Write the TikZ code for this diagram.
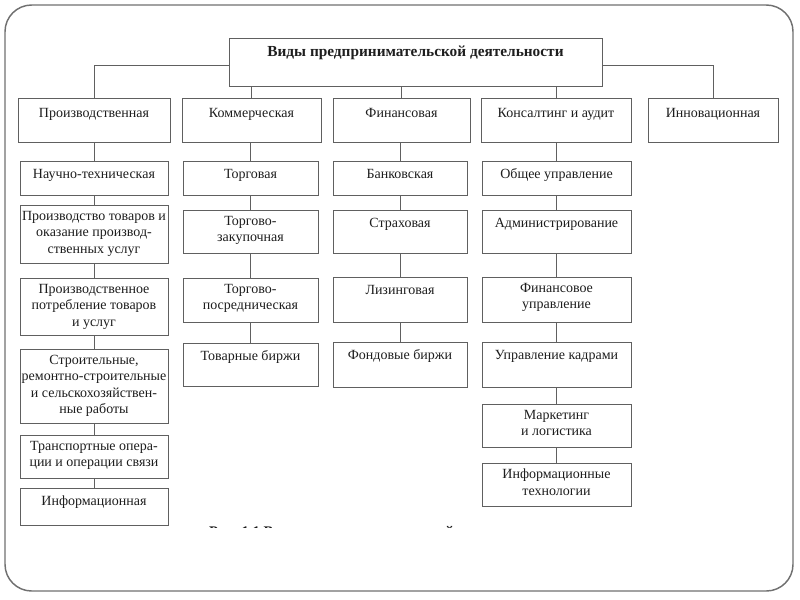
\documentclass[tikz,border=0pt]{standalone}
\usepackage{fontspec}
\setmainfont{Liberation Serif}
\usetikzlibrary{fit}
\definecolor{linec}{HTML}{606060}
\definecolor{framec}{HTML}{707070}
\definecolor{textc}{HTML}{1E1E1E}
\newcommand\mkbox[7]{%
  \coordinate (#1-a) at (#2,#3);
  \coordinate (#1-b) at (#4,#5);
  \node[boxst, fit=(#1-a)(#1-b)] (#1) {};
  \node[txt, anchor=north] (#1-t) at ([yshift={-#6*0.75pt}]#1.north) {#7};
}
\begin{document}
\begin{tikzpicture}[x=0.75pt,y=-0.75pt,
  boxst/.style={draw=linec, line width=0.65pt, fill=white, inner sep=0pt},
  txt/.style={align=center, inner sep=0pt, text=textc, font=\fontsize{10.5}{12.4}\selectfont, execute at begin node=\strut},
  conn/.style={draw=linec, line width=0.65pt},
  frame/.style={draw=framec, line width=1.1pt, rounded corners=20pt}]
\useasboundingbox (0,0) rectangle (800,600);
\draw[frame] (5,5) rectangle (793,591);

% top
\mkbox{top}{229}{38}{602}{86}{7}{\fontsize{11.5}{13.8}\selectfont\bfseries Виды предпринимательской деятельности}
\coordinate (hub) at (400,65);

% level 2
\mkbox{A}{18}{98}{170}{142}{8.5}{Производственная}
\mkbox{B}{182}{98}{321}{142}{8.5}{Коммерческая}
\mkbox{C}{333}{98}{470}{142}{8.5}{Финансовая}
\mkbox{D}{481}{98}{631}{142}{8.5}{Консалтинг и аудит}
\mkbox{E}{648}{98}{778}{142}{8.5}{Инновационная}

% column A
\mkbox{A1}{20}{161}{168}{195}{6}{Научно-техническая}
\mkbox{A2}{20}{205}{168}{263}{6}{Производство товаров и\\оказание производ-\\ственных услуг}
\mkbox{A3}{20}{278}{168}{335}{6}{Производственное\\потребление товаров\\и услуг}
\mkbox{A4}{20}{349}{168}{423}{6}{Строительные,\\ремонтно-строительные\\и сельскохозяйствен-\\ные работы}
\mkbox{A5}{20}{435}{168}{478}{6}{Транспортные опера-\\ции и операции связи}
\mkbox{A6}{20}{488}{168}{525}{6}{Информационная}

% column B
\mkbox{B1}{183}{161}{318}{195}{6}{Торговая}
\mkbox{B2}{183}{210}{318}{253}{6}{Торгово-\\закупочная}
\mkbox{B3}{183}{278}{318}{322}{6}{Торгово-\\посредническая}
\mkbox{B4}{183}{343}{318}{386}{6}{Товарные биржи}

% column C
\mkbox{C1}{333}{161}{467}{195}{6}{Банковская}
\mkbox{C2}{333}{210}{467}{253}{6}{Страховая}
\mkbox{C3}{333}{277}{467}{322}{6}{Лизинговая}
\mkbox{C4}{333}{342}{467}{387}{6}{Фондовые биржи}

% column D
\mkbox{D1}{482}{161}{631}{195}{6}{Общее управление}
\mkbox{D2}{482}{210}{631}{253}{6}{Администрирование}
\mkbox{D3}{482}{277}{631}{322}{6}{Финансовое\\управление}
\mkbox{D4}{482}{342}{631}{387}{6}{Управление кадрами}
\mkbox{D5}{482}{404}{631}{447}{6}{Маркетинг\\и логистика}
\mkbox{D6}{482}{463}{631}{506}{6}{Информационные\\технологии}

% connectors from top
\draw[conn] (A.north) -- (A.north |- hub) -- (top.west |- hub);
\draw[conn] (top.east |- hub) -- (E.north |- hub) -- (E.north);
\draw[conn] (top.south -| B.north) -- (B.north);
\draw[conn] (top.south -| C.north) -- (C.north);
\draw[conn] (top.south -| D.north) -- (D.north);

% column chains
\draw[conn] (A1.north |- A.south) -- (A1.north);
\draw[conn] (A1.south) -- (A2.north);
\draw[conn] (A2.south) -- (A3.north);
\draw[conn] (A3.south) -- (A4.north);
\draw[conn] (A4.south) -- (A5.north);
\draw[conn] (A5.south) -- (A6.north);

\draw[conn] (B1.north |- B.south) -- (B1.north);
\draw[conn] (B1.south) -- (B2.north);
\draw[conn] (B2.south) -- (B3.north);
\draw[conn] (B3.south) -- (B4.north);

\draw[conn] (C1.north |- C.south) -- (C1.north);
\draw[conn] (C1.south) -- (C2.north);
\draw[conn] (C2.south) -- (C3.north);
\draw[conn] (C3.south) -- (C4.north);

\draw[conn] (D1.north |- D.south) -- (D1.north);
\draw[conn] (D1.south) -- (D2.north);
\draw[conn] (D2.south) -- (D3.north);
\draw[conn] (D3.south) -- (D4.north);
\draw[conn] (D4.south) -- (D5.north);
\draw[conn] (D5.south) -- (D6.north);

% clipped caption
\begin{scope}
  \clip (150,515) rectangle (650,527.5);
  \node[anchor=base, inner sep=0pt, text=textc, font=\fontsize{11}{13}\selectfont\bfseries] (cap) at (378,536) {Рис. 1.1 Виды предпринимательской деятельности};
\end{scope}
\end{tikzpicture}
\end{document}
